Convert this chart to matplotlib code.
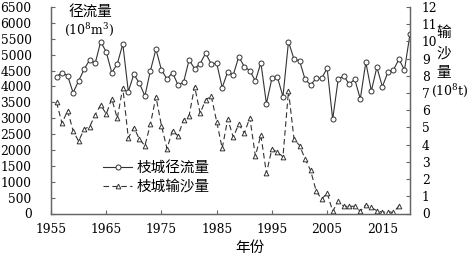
import numpy as np
import matplotlib
matplotlib.use("Agg")
import matplotlib.pyplot as plt

plt.rcParams['font.family'] = ['DejaVu Serif', 'Noto Sans CJK SC']
plt.rcParams['mathtext.fontset'] = 'dejavuserif'

# 枝城站 径流量 (10^8 m3), 1956-2020
years_q = list(range(1956, 2021))
runoff = [4307, 4433, 4339, 3804, 4172, 4540, 4833, 4729, 5409, 5085,
          4433, 4707, 5337, 3840, 4383, 4100, 3700, 4496, 5170, 4518,
          4235, 4433, 4046, 4131, 4833, 4559, 4718, 5044, 4707, 4729,
          3961, 4465, 4361, 4937, 4622, 4496, 4172, 4748, 3457, 4257,
          4289, 3678, 5409, 4855, 4811, 4225, 4046, 4257, 4257, 4572,
          2966, 4225, 4330, 4072, 4225, 3605, 4761, 3857, 4603, 3993,
          4446, 4518, 4855, 4518, 5652]

# 枝城站 输沙量 (10^8 t), 1956-2018
years_s = list(range(1956, 2019))
sediment = [6.46, 5.24, 5.98, 4.81, 4.20, 4.91, 5.05, 5.73, 6.31, 5.78,
            6.67, 5.53, 7.31, 4.39, 4.99, 4.33, 3.94, 5.19, 6.79, 5.10,
            3.77, 4.82, 4.51, 5.44, 5.67, 7.38, 5.83, 6.60, 6.83, 5.34,
            3.79, 5.49, 4.43, 5.20, 4.66, 5.57, 3.34, 4.56, 2.34, 3.75,
            3.56, 3.30, 7.12, 4.33, 3.95, 3.18, 2.50, 1.32, 0.83, 1.19,
            0.13, 0.71, 0.42, 0.42, 0.42, 0.13, 0.51, 0.35, 0.16, 0.07,
            0.10, 0.06, 0.45]

xticks = [1955, 1965, 1975, 1985, 1995, 2005, 2015]

W, H = 472, 257
fig = plt.figure(figsize=(W / 100, H / 100), dpi=100)
L, R, B, T = 51, 410, 213.5, 7
ax = fig.add_axes([L / W, 1 - B / H, (R - L) / W, (B - T) / H])
ax2 = ax.twinx()

ln_col = '#333333'
l1, = ax.plot(years_q, runoff, '-', color=ln_col, lw=0.8, marker='o', ms=3.6,
              mfc='white', mec=ln_col, mew=0.7, label='枝城径流量')
l2, = ax2.plot(years_s, sediment, '--', color=ln_col, lw=0.8, dashes=(5, 3),
               marker='^', ms=3.4, mfc='white', mec=ln_col, mew=0.7,
               label='枝城输沙量')

ax.set_xlim(1955, 2020)
ax.set_ylim(0, 6500)
ax2.set_ylim(0, 12)
ax.set_xticks(xticks)
ax.set_yticks(np.arange(0, 6501, 500))
ax2.set_yticks(np.arange(0, 13, 1))

spine_col = '#666666'
for a in (ax, ax2):
    a.spines['top'].set_visible(False)
    for s in ('left', 'right', 'bottom'):
        a.spines[s].set_color(spine_col)
        a.spines[s].set_linewidth(0.9)
ax.tick_params(axis='y', direction='in', length=3, pad=14, labelsize=8.8,
               color=spine_col)
ax.tick_params(axis='x', direction='in', length=3, pad=7, labelsize=8.8,
               color=spine_col)
ax2.tick_params(axis='y', direction='in', length=3, pad=8.5, labelsize=8.8,
                color=spine_col)

# axis titles
cjk = ['Noto Sans CJK SC', 'DejaVu Serif']
fig.text(90 / W, 1 - 12 / H, '径流量', family=cjk, fontsize=10.5,
         ha='center', va='center')
fig.text(89 / W, 1 - 30 / H, '(10$^{8}$m$^{3}$)', fontsize=9,
         ha='center', va='center')
for ch, yy in zip('输沙量', [33, 54, 73]):
    fig.text(444 / W, 1 - yy / H, ch, family=cjk, fontsize=10.5,
             ha='center', va='center')
fig.text(431 / W, 1 - 91 / H, '(10$^{8}$t)', fontsize=9,
         ha='left', va='center')
fig.text(250 / W, 1 - 248 / H, '年份', family=cjk, fontsize=10.5,
         ha='center', va='center')

leg = ax.legend(handles=[l1, l2], loc='upper left',
                bbox_to_anchor=((103 - L) / (R - L), (B - 161) / (B - T)),
                frameon=False, borderpad=0, borderaxespad=0,
                handlelength=2.0, handletextpad=0.3, labelspacing=0.35,
                prop={'family': 'Noto Sans CJK SC', 'size': 10.5})

fig.savefig('out.png', dpi=100)
